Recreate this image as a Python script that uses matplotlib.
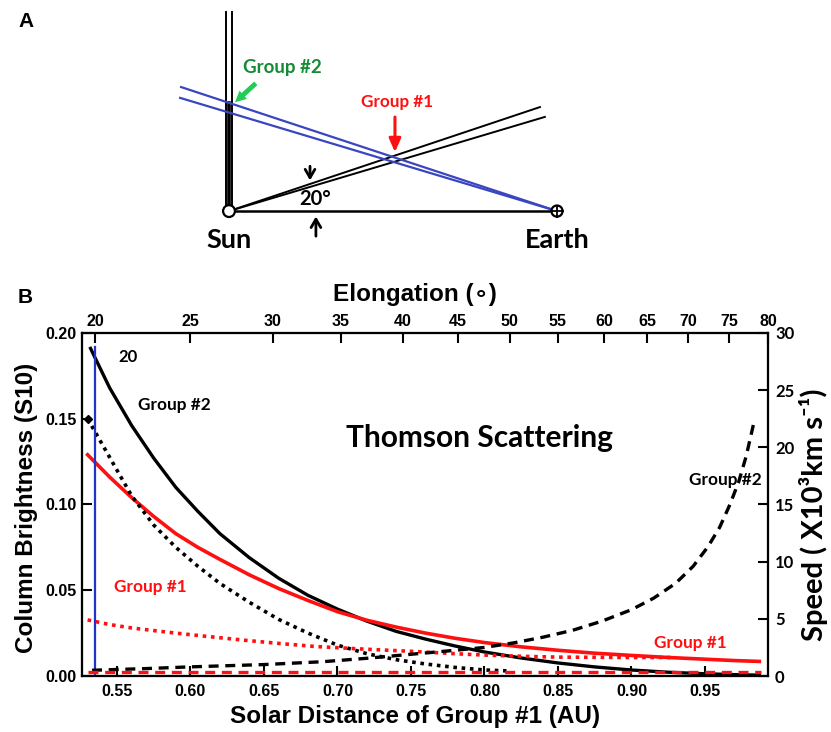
import numpy as np
import matplotlib.pyplot as plt
from matplotlib.patches import Circle

# --- panel B data ---
# column brightness, left axis
x_g2_bright = [0.532, 0.545, 0.560, 0.575, 0.590, 0.605, 0.620, 0.640, 0.660, 0.680, 0.700, 0.720,
               0.740, 0.760, 0.780, 0.800, 0.825, 0.850, 0.875, 0.900, 0.925, 0.950, 0.970, 0.987]
y_g2_bright = [0.191, 0.168, 0.146, 0.127, 0.110, 0.096, 0.083, 0.069, 0.057, 0.047, 0.039, 0.032,
               0.026, 0.0215, 0.0175, 0.014, 0.0105, 0.0076, 0.0053, 0.0035, 0.0022, 0.0013, 0.0008, 0.0005]

x_g1_bright = [0.530, 0.545, 0.560, 0.575, 0.590, 0.605, 0.620, 0.640, 0.660, 0.680, 0.700, 0.720,
               0.740, 0.760, 0.780, 0.800, 0.825, 0.850, 0.875, 0.900, 0.925, 0.950, 0.970, 0.987]
y_g1_bright = [0.129, 0.116, 0.104, 0.093, 0.083, 0.075, 0.068, 0.059, 0.051, 0.044, 0.0375, 0.0325,
               0.0285, 0.0250, 0.0220, 0.0195, 0.0170, 0.0150, 0.0133, 0.0120, 0.0108, 0.0098, 0.0090, 0.0085]

x_g2_dot = [0.530, 0.540, 0.550, 0.560, 0.575, 0.590, 0.605, 0.620, 0.640, 0.660, 0.680, 0.700,
            0.720, 0.740, 0.760, 0.780, 0.800, 0.815]
y_g2_dot = [0.150, 0.135, 0.120, 0.105, 0.088, 0.075, 0.064, 0.054, 0.043, 0.033, 0.025, 0.018,
            0.013, 0.0095, 0.007, 0.005, 0.0035, 0.003]

x_g1_dot = [0.530, 0.545, 0.560, 0.575, 0.590, 0.610, 0.635, 0.660, 0.685, 0.715, 0.750, 0.780,
            0.800, 0.825, 0.850, 0.900, 0.930]
y_g1_dot = [0.0327, 0.030, 0.028, 0.0265, 0.025, 0.0232, 0.021, 0.019, 0.0172, 0.0158, 0.0144, 0.013,
            0.0122, 0.0115, 0.011, 0.0108, 0.0108]

# speed, right axis (x10^3 km/s)
x_g2_speed = [0.533, 0.570, 0.600, 0.650, 0.690, 0.720, 0.750, 0.780, 0.800, 0.820, 0.840, 0.860,
              0.880, 0.900, 0.915, 0.930, 0.942, 0.952, 0.960, 0.967, 0.973, 0.978, 0.983]
y_g2_speed = [0.5, 0.65, 0.8, 1.0, 1.25, 1.55, 1.9, 2.25, 2.5, 2.9, 3.4, 4.0,
              4.8, 5.8, 6.8, 8.1, 9.6, 11.3, 13.0, 15.0, 17.0, 19.2, 22.0]

x_g1_speed = [0.530, 0.650, 0.750, 0.850, 0.988]
y_g1_speed = [0.33, 0.33, 0.33, 0.33, 0.33]

elong_labels = [20, 25, 30, 35, 40, 45, 50, 55, 60, 65, 70, 75, 80]
elong_pos = [0.535, 0.5997, 0.6561, 0.7024, 0.7446, 0.7820, 0.8173, 0.8500,
             0.8813, 0.9105, 0.9384, 0.9663, 0.9929]
x_20deg = 0.535

RED = '#ff1010'
ARIAL = ['Liberation Sans', 'DejaVu Sans']
CAL = ['Lato', 'DejaVu Sans']

fig = plt.figure(figsize=(8.31, 7.32), dpi=100)

# ---------------- panel A : geometry sketch (Sun at 0,0 Earth at 1,0) ----------------
axa = fig.add_axes([0, 0.631, 1, 0.369])
axa.set_xlim(-229/328, 602/328)
axa.set_ylim(-59/328, 211/328)
axa.axis('off')

for dx in (-0.009, 0.009):
    axa.plot([dx, dx], [0.018, 0.606], color='k', lw=1.4)
axa.plot([0, 0], [0.018, 0.33], color='k', lw=2.6)
axa.plot([0, 1], [0, 0], color='k', lw=1.8)
axa.plot([0, 0.948], [0, 0.317], color='k', lw=1.4)
axa.plot([0, 0.963], [0, 0.287], color='k', lw=1.4)
axa.plot([1, -0.146], [0, 0.378], color='#3a46c0', lw=1.6)
axa.plot([1, -0.149], [0, 0.345], color='#3a46c0', lw=1.6)
axa.add_patch(Circle((0, 0), 0.018, facecolor='white', edgecolor='k', lw=1.6, zorder=5))
axa.add_patch(Circle((1, 0), 0.017, facecolor='white', edgecolor='k', lw=1.6, zorder=5))
axa.plot([1 - 0.017, 1 + 0.017], [0, 0], color='k', lw=1.3, zorder=6)
axa.plot([1, 1], [-0.017, 0.017], color='k', lw=1.3, zorder=6)

axa.annotate('', xy=(0.506, 0.171), xytext=(0.506, 0.295),
             arrowprops=dict(arrowstyle='-|>,head_length=0.8,head_width=0.35', color=RED, lw=2.2))
axa.annotate('', xy=(0.012, 0.326), xytext=(0.088, 0.395),
             arrowprops=dict(arrowstyle='simple,head_length=0.8,head_width=0.8,tail_width=0.35',
                             color='#22cc55', lw=0))
axa.annotate('', xy=(0.247, 0.085), xytext=(0.247, 0.145),
             arrowprops=dict(arrowstyle='->,head_length=0.6,head_width=0.35', color='k', lw=2))
axa.annotate('', xy=(0.265, -0.008), xytext=(0.265, -0.085),
             arrowprops=dict(arrowstyle='->,head_length=0.6,head_width=0.35', color='k', lw=2))

axa.text(0.262, 0.036, '20°', fontsize=14.5, fontweight='bold', family=CAL, ha='center', va='center')
axa.text(0, -0.088, 'Sun', fontsize=19.5, fontweight='bold', family=CAL, ha='center', va='center')
axa.text(1, -0.088, 'Earth', fontsize=19.5, fontweight='bold', family=CAL, ha='center', va='center')
axa.text(0.162, 0.439, 'Group #2', fontsize=13.5, fontweight='bold', family=CAL, color='#168a34',
         ha='center', va='center')
axa.text(0.512, 0.332, 'Group #1', fontsize=12.3, fontweight='bold', family=CAL, color=RED,
         ha='center', va='center')

fig.text(0.0217, 0.970, 'A', fontsize=15, fontweight='bold', family=ARIAL, va='center')
fig.text(0.0217, 0.593, 'B', fontsize=15, fontweight='bold', family=ARIAL, va='center')

# ---------------- panel B ----------------
ax = fig.add_axes([0.0987, 0.0765, 0.8255, 0.4686])
ax2 = ax.twinx()
ax3 = ax.twiny()

xlim = (0.5262, 0.9929)
ax.set_xlim(xlim)
ax.set_ylim(0, 0.20)
ax2.set_ylim(0, 30)
ax3.set_xlim(xlim)

ax.plot(x_g2_bright, y_g2_bright, color='k', lw=2.4)
ax.plot(x_g1_bright, y_g1_bright, color=RED, lw=2.6)
ax.plot(x_g2_dot, y_g2_dot, color='k', lw=2.6, ls=(0, (1, 1.3)))
ax.plot(x_g2_dot[0], y_g2_dot[0], marker='D', color='k', ms=4)
ax.plot(x_g1_dot, y_g1_dot, color=RED, lw=2.6, ls=(0, (1, 1.3)))
ax2.plot(x_g2_speed, y_g2_speed, color='k', lw=2.4, ls=(0, (3, 2)))
ax2.plot(x_g1_speed, y_g1_speed, color=RED, lw=2.4, ls=(0, (3, 2)))
ax.axvline(x_20deg, ymin=0, ymax=0.96, color='#2233cc', lw=1.6)

ax.set_xticks([0.55, 0.60, 0.65, 0.70, 0.75, 0.80, 0.85, 0.90, 0.95])
ax.set_xticklabels(['0.55', '0.60', '0.65', '0.70', '0.75', '0.80', '0.85', '0.90', '0.95'])
ax.set_yticks([0, 0.05, 0.10, 0.15, 0.20])
ax.set_yticklabels(['0.00', '0.05', '0.10', '0.15', '0.20'])
ax2.set_yticks([0, 5, 10, 15, 20, 25, 30])
ax3.set_xticks(elong_pos)
ax3.set_xticklabels([str(v) for v in elong_labels])

for a in (ax, ax2, ax3):
    for s in a.spines.values():
        s.set_linewidth(1.5)
    a.tick_params(direction='in', length=7, width=1.5)
ax.tick_params(axis='x', pad=6)
ax.tick_params(axis='y', pad=4)
ax3.tick_params(axis='x', pad=3)
ax2.tick_params(axis='y', pad=5)
for lab in ax.get_xticklabels() + ax.get_yticklabels() + ax3.get_xticklabels():
    lab.set_family(ARIAL)
    lab.set_fontweight('bold')
    lab.set_fontsize(11.5)
for lab in ax2.get_yticklabels():
    lab.set_family(CAL)
    lab.set_fontweight('bold')
    lab.set_fontsize(12)

ax.text(0.5507, 0.186, '20', fontsize=12, fontweight='bold', family=CAL, va='center')
ax.text(0.5643, 0.158, 'Group #2', fontsize=12.4, fontweight='bold', family=CAL, va='center')
ax.text(0.7966, 0.139, 'Thomson Scattering', fontsize=21.5, fontweight='bold', family=CAL,
        ha='center', va='center')
ax.text(0.9888, 0.1143, 'Group #2', fontsize=12.4, fontweight='bold', family=CAL,
        ha='right', va='center')
ax.text(0.5724, 0.0519, 'Group #1', fontsize=12.4, fontweight='bold', family=CAL, color=RED,
        ha='center', va='center')
ax.text(0.9398, 0.0192, 'Group #1', fontsize=12.4, fontweight='bold', family=CAL, color=RED,
        ha='center', va='center')

fig.text(415/831, 1 - 295/732, 'Elongation (∘)', fontsize=17.5, fontweight='bold', family=ARIAL,
         ha='center', va='center')
fig.text(415/831, 1 - 716/732, 'Solar Distance of Group #1 (AU)', fontsize=17.5, fontweight='bold',
         family=ARIAL, ha='center', va='center')
fig.text(27/831, 1 - 508/732, 'Column Brightness (S10)', fontsize=17.5, fontweight='bold',
         family=ARIAL, rotation=90, ha='center', va='center')
fig.text(813/831, 1 - 515/732, 'Speed ( X10³km s⁻¹)', fontsize=21,
         fontweight='bold', family=CAL, rotation=90, ha='center', va='center')

fig.savefig('out.png', dpi=100)
